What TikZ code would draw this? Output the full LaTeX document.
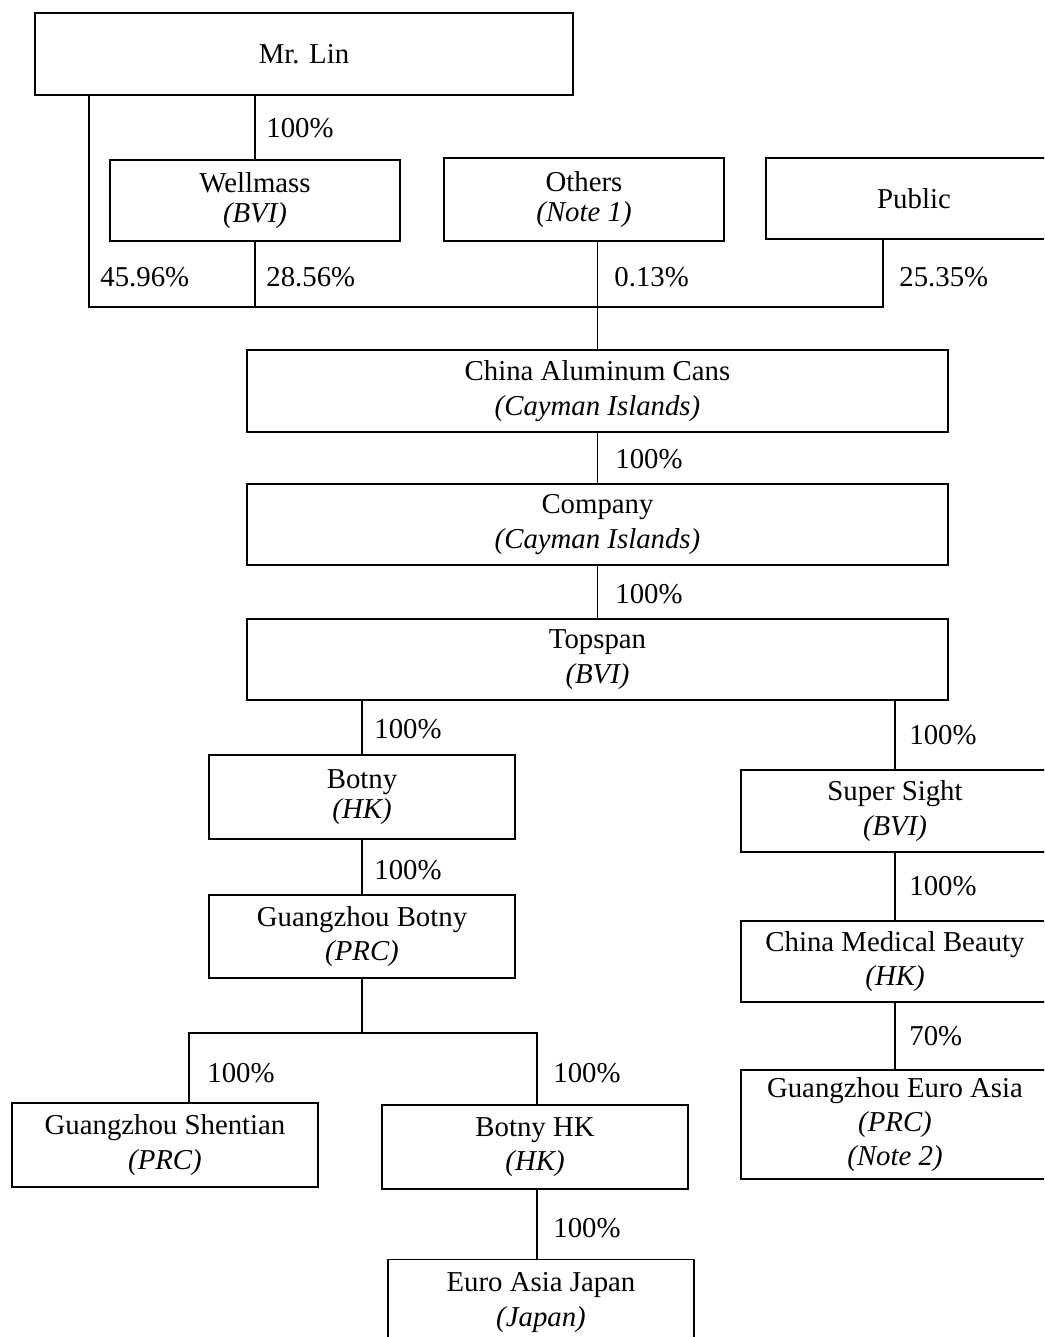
\documentclass[tikz,border=0pt]{standalone}
\usepackage{fontspec}
\setmainfont{Liberation Serif}
\usetikzlibrary{calc}

\tikzset{
  entity/.style={draw, line width=.8pt, black, align=center, inner sep=0pt,
    minimum height=41pt, font=\fontsize{14.4}{17.2}\selectfont},
  tight/.style={font=\fontsize{14.4}{14.8}\selectfont},
  pct/.style={anchor=west, inner sep=0pt, font=\fontsize{14.4}{17.2}\selectfont},
  link/.style={line width=.8pt, black}
}

\begin{document}
\begin{tikzpicture}[x=0.5pt, y=-0.5pt]
  \clip (0,0) rectangle (1044,1337);
  \useasboundingbox (0,0) rectangle (1044,1337);

  % shareholders
  \node[entity, minimum width=269pt] (lin) at (304,54) {Mr. Lin};
  \node[entity, tight, minimum width=145pt, minimum height=40.5pt] (well) at (255,200.5) {Wellmass\\\textit{(BVI)}};
  \node[entity, tight, minimum width=140pt, minimum height=41.5pt] (others) at (584,199.5) {Others\\\textit{(Note 1)}};
  \node[entity, minimum width=148pt, minimum height=40.5pt] (public) at (914,198.5) {Public};

  % holding chain
  \node[entity, minimum width=350.5pt] (cans) at (597.5,391) {China Aluminum Cans\\\textit{(Cayman Islands)}};
  \node[entity, minimum width=350.5pt, minimum height=40.5pt] (company) at (597.5,524.5) {Company\\\textit{(Cayman Islands)}};
  \node[entity, minimum width=350.5pt, minimum height=40.5pt] (topspan) at (597.5,659.5) {Topspan\\\textit{(BVI)}};

  % left branch
  \node[entity, tight, minimum width=153pt, minimum height=42pt] (botny) at (362,797) {Botny\\\textit{(HK)}};
  \node[entity, minimum width=153pt, minimum height=41.5pt] (gzb) at (362,936.5) {Guangzhou Botny\\\textit{(PRC)}};
  \node[entity, minimum width=153pt, minimum height=42pt] (shentian) at (165,1145) {Guangzhou Shentian\\\textit{(PRC)}};
  \node[entity, minimum width=153pt, minimum height=42pt] (botnyhk) at (535,1147) {Botny HK\\\textit{(HK)}};
  \node[entity, minimum width=153pt, minimum height=43pt] (japan) at (541,1302.5) {Euro Asia Japan\\\textit{(Japan)}};

  % right branch
  \node[entity, minimum width=154pt] (super) at (895,811) {Super Sight\\\textit{(BVI)}};
  \node[entity, minimum width=154pt, minimum height=40.5pt] (cmb) at (895,961.5) {China Medical Beauty\\\textit{(HK)}};
  \node[entity, minimum width=154pt, minimum height=54.5pt] (gea) at (895,1124.5) {Guangzhou Euro Asia\\\textit{(PRC)}\\\textit{(Note 2)}};

  \coordinate (busL) at (89,307);
  \coordinate (busR) at (883,307);
  \coordinate (splitL) at (189,1033);
  \coordinate (splitR) at (537,1033);

  \draw[link] (lin.south -| busL) -- (busL) -- (busR) -- (public.south -| busR);
  \draw[link] (lin.south -| well.north) -- (well.north);
  \draw[link] (well.south) -- (well.south |- busL);
  \draw[link] (others.south -| cans.north) -- (cans.north);
  \draw[link] (cans.south) -- (company.north);
  \draw[link] (company.south) -- (topspan.north);
  \draw[link] (topspan.south -| botny.north) -- (botny.north);
  \draw[link] (topspan.south -| super.north) -- (super.north);
  \draw[link] (botny.south) -- (gzb.north);
  \draw[link] (gzb.south) -- (gzb.south |- splitL);
  \draw[link] (shentian.north -| splitL) -- (splitL) -- (splitR) -- (botnyhk.north -| splitR);
  \draw[link] (botnyhk.south -| splitR) -- (japan.north -| splitR);
  \draw[link] (super.south) -- (cmb.north);
  \draw[link] (cmb.south) -- (gea.north);

  % holdings
  \foreach \x/\y/\t/\n in {266/128/100/a, 100/277/45.96/b, 266/277/28.56/c, 614/277/0.13/d,
      899/277/25.35/e, 615/459/100/f, 615/594/100/g, 374/729/100/h, 909/735/100/i,
      374/870/100/j, 207/1073/100/k, 553/1073/100/l, 553/1228/100/m, 909/886/100/n,
      909/1036/70/o} {
    \node[pct] (p\n) at (\x,\y) {\t\%};}
\end{tikzpicture}
\end{document}
